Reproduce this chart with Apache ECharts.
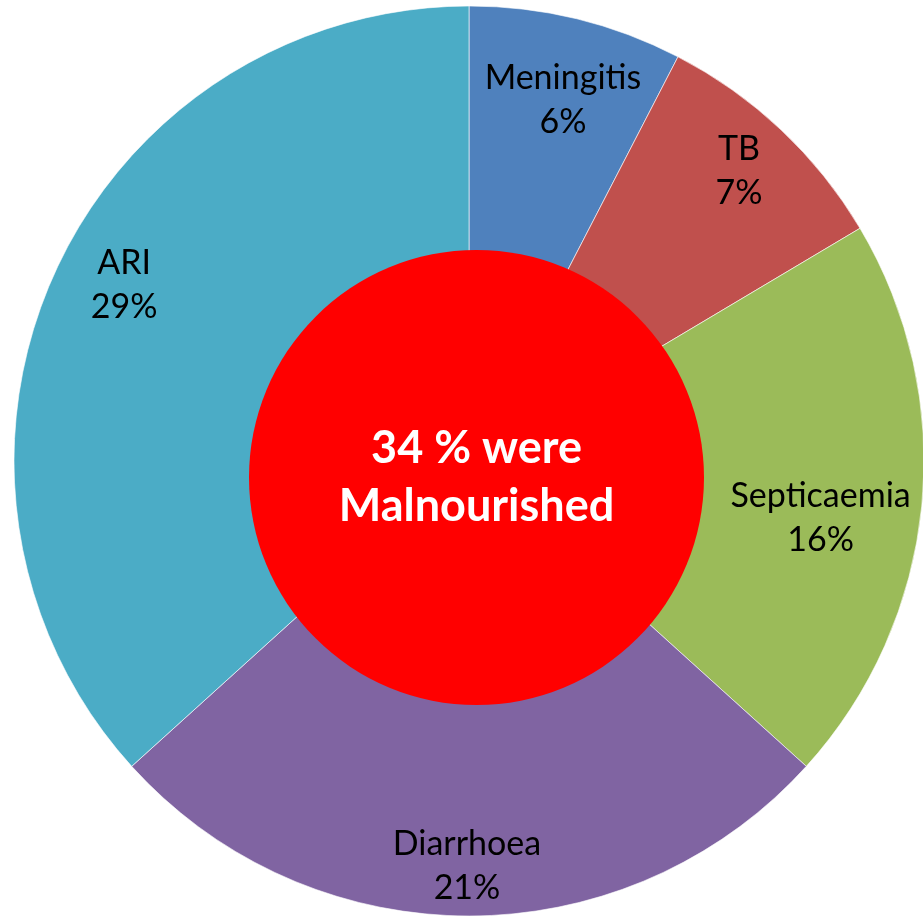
<!DOCTYPE html>
<html>
<head>
<meta charset="utf-8">
<script src="https://cdn.jsdelivr.net/npm/echarts@6/dist/echarts.min.js"></script>
<style>
  html, body { margin: 0; padding: 0; background: #fff; }
  #chart { width: 923px; height: 923px; }
</style>
</head>
<body>
<div id="chart"></div>
<script>
// causes of admission (%)
const causes = ["Meningitis", "TB", "Septicaemia", "Diarrhoea", "ARI"];
const percents = [6, 7, 16, 21, 29];
const colors = ["#4F81BD", "#C0504D", "#9BBB59", "#8064A2", "#4BACC6"];
const malnourished = 34;

// small label nudges so they sit where the original had them
const labelNudge = [[4, 9], [9, -13], [-27, 19], [-2, 25], [3, -22]];

const slices = causes.map((name, i) => ({
  name,
  value: percents[i],
  itemStyle: { color: colors[i] }
}));

const chart = echarts.init(document.getElementById("chart"));
chart.setOption({
  animation: false,
  series: [
    {
      type: "pie",
      center: [469, 461],
      radius: [0, 455],
      startAngle: 90,
      silent: true,
      itemStyle: { borderColor: "rgba(255,255,255,0.6)", borderWidth: 1 },
      label: { show: false },
      labelLine: { show: false },
      data: slices
    },
    {
      // transparent copy that only carries the labels
      type: "pie",
      center: [469, 461],
      radius: [300, 455],
      startAngle: 90,
      silent: true,
      itemStyle: { color: "rgba(0,0,0,0)" },
      label: {
        show: true,
        position: "inside",
        formatter: "{b}\n{c}%",
        color: "#000",
        fontFamily: "Lato",
        fontSize: 34,
        lineHeight: 44
      },
      labelLine: { show: false },
      labelLayout: p => ({ dx: labelNudge[p.dataIndex][0], dy: labelNudge[p.dataIndex][1] }),
      data: causes.map((name, i) => ({ name, value: percents[i] }))
    },
    {
      type: "pie",
      center: [476.5, 477.5],
      radius: [0, 227.5],
      silent: true,
      itemStyle: { color: "#FF0000" },
      label: {
        show: true,
        position: "center",
        formatter: p => p.value + " % were\nMalnourished",
        color: "#fff",
        fontFamily: "Lato",
        fontWeight: "bold",
        fontSize: 45,
        lineHeight: 58
      },
      labelLine: { show: false },
      data: [{ name: "Malnourished", value: malnourished }]
    }
  ]
});
</script>
</body>
</html>
